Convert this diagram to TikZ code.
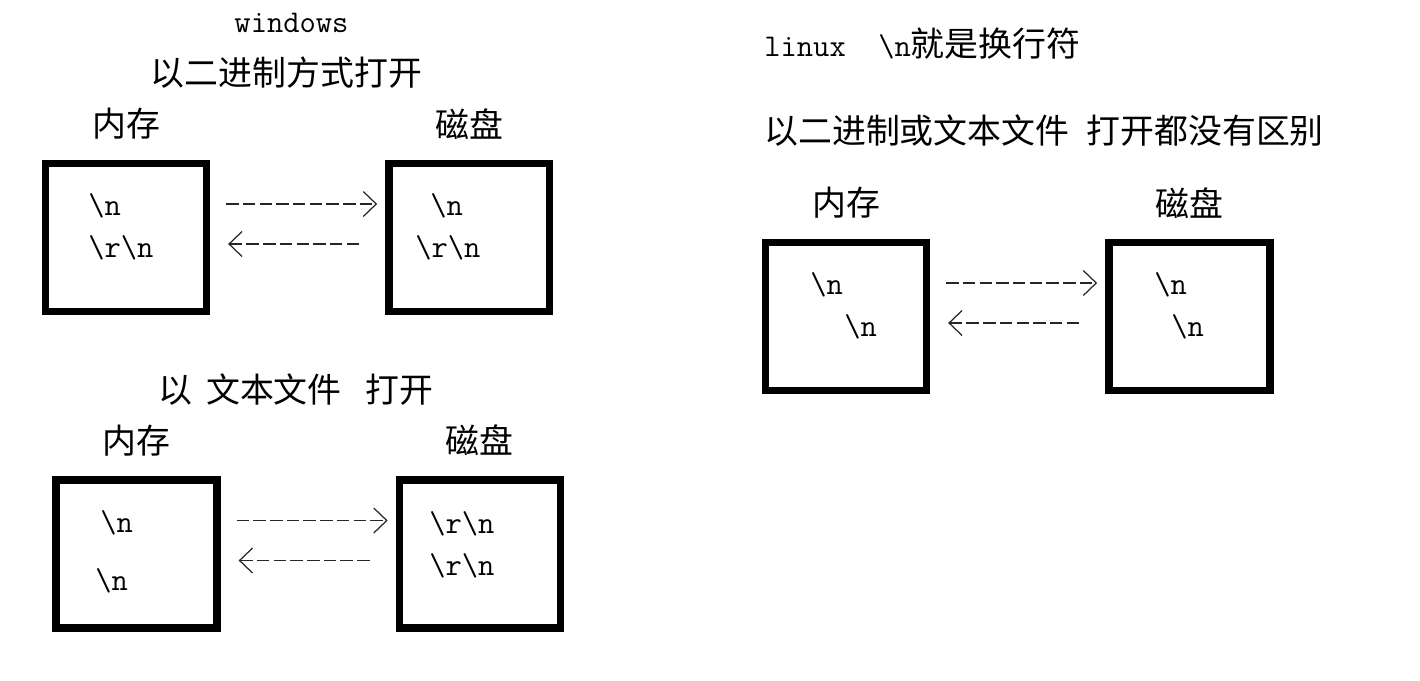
\documentclass[tikz,border=0pt]{standalone}
\usepackage{fontspec}
\usepackage{tikz}
\usetikzlibrary{positioning,arrows.meta}
\newfontfamily\cjk{Noto Sans CJK SC}
\newcommand{\lfmark}{\texttt{\textbackslash n}}
\newcommand{\crlfmark}{\texttt{\textbackslash r\textbackslash n}}

\begin{document}
\begin{tikzpicture}
[
x=0.02cm, y=-0.02cm,
box-a/.style={rectangle, draw, line width=4.2pt, minimum width=3.22cm, minimum height=2.96cm},
text-a/.style={inner sep=0pt, font=\fontsize{18}{22}\selectfont},
cjk-a/.style={inner sep=0pt, font=\cjk\fontsize{19.3}{22}\selectfont},
code-a/.style={text-a, anchor=base west},
flow-a/.style={draw=black!85, line width=1.1pt, dash pattern=on 0.25cm off 0.084cm, -{Straight Barb[length=2.6mm, width=5mm, line width=0.7pt]}}
]
\path [use as bounding box] (0,0) rectangle (1420,680);
% windows, binary
\node (win)        [text-a, anchor=base]             at (291.5,32)  {\texttt{windows}};
\node (win-bin)    [cjk-a]                           at (286.5,73)  {以二进制方式打开};
\node (mem-1)      [box-a]                           at (126,237.5) {};
\node (disk-1)     [box-a, right = 3.5cm of mem-1]                  {};
\node (mem-1-lb)   [cjk-a, above = 4mm of mem-1]                    {内存};
\node (disk-1-lb)  [cjk-a, above = 4mm of disk-1]                   {磁盘};
\node (mem-1-a)    [code-a]                          at (88,215)    {\lfmark};
\node (mem-1-b)    [code-a]                          at (88,257)    {\crlfmark};
\node (disk-1-a)   [code-a]                          at (430,215)   {\lfmark};
\node (disk-1-b)   [code-a]                          at (415,257)   {\crlfmark};
\draw [flow-a, shorten <=0.32cm, shorten >=0.16cm] ([yshift=0.67cm]mem-1.east) -- ([yshift=0.67cm]disk-1.west);
\draw [flow-a, shorten <=0.52cm, shorten >=0.36cm] ([yshift=-0.13cm]disk-1.west) -- ([yshift=-0.13cm]mem-1.east);
% windows, text
\node (win-txt)    [cjk-a]                           at (296,390)   {以\hspace{0.4em}文本文件\hspace{0.7em}打开};
\node (mem-2)      [box-a]                           at (136.5,554) {};
\node (disk-2)     [box-a, right = 3.5cm of mem-2]                  {};
\node (mem-2-lb)   [cjk-a, above = 4mm of mem-2]                    {内存};
\node (disk-2-lb)  [cjk-a, above = 4mm of disk-2]                   {磁盘};
\node (mem-2-a)    [code-a]                          at (100,532)   {\lfmark};
\node (mem-2-b)    [code-a]                          at (95,590)    {\lfmark};
\node (disk-2-a)   [code-a]                          at (429,533)   {\crlfmark};
\node (disk-2-b)   [code-a]                          at (429,575)   {\crlfmark};
\draw [flow-a, shorten <=0.32cm, shorten >=0.16cm] ([yshift=0.67cm]mem-2.east) -- ([yshift=0.67cm]disk-2.west);
\draw [flow-a, shorten <=0.52cm, shorten >=0.36cm] ([yshift=-0.13cm]disk-2.west) -- ([yshift=-0.13cm]mem-2.east);
% linux
\node (lnx)        [text-a, anchor=west]             at (764,44)    {\texttt{linux\ \ \textbackslash n}{\cjk\fontsize{19.3}{22}\selectfont 就是换行符}};
\node (lnx-both)   [cjk-a, anchor=west]              at (764,131)   {以二进制或文本文件\hspace{0.5em}打开都没有区别};
\node (mem-3)      [box-a]                           at (846,316.5) {};
\node (disk-3)     [box-a, right = 3.5cm of mem-3]                  {};
\node (mem-3-lb)   [cjk-a, above = 4mm of mem-3]                    {内存};
\node (disk-3-lb)  [cjk-a, above = 4mm of disk-3]                   {磁盘};
\node (mem-3-a)    [code-a]                          at (810,294)   {\lfmark};
\node (mem-3-b)    [code-a]                          at (844,336)   {\lfmark};
\node (disk-3-a)   [code-a]                          at (1154,294)  {\lfmark};
\node (disk-3-b)   [code-a]                          at (1171,336)  {\lfmark};
\draw [flow-a, shorten <=0.32cm, shorten >=0.16cm] ([yshift=0.67cm]mem-3.east) -- ([yshift=0.67cm]disk-3.west);
\draw [flow-a, shorten <=0.52cm, shorten >=0.36cm] ([yshift=-0.13cm]disk-3.west) -- ([yshift=-0.13cm]mem-3.east);
\end{tikzpicture}
\end{document}
